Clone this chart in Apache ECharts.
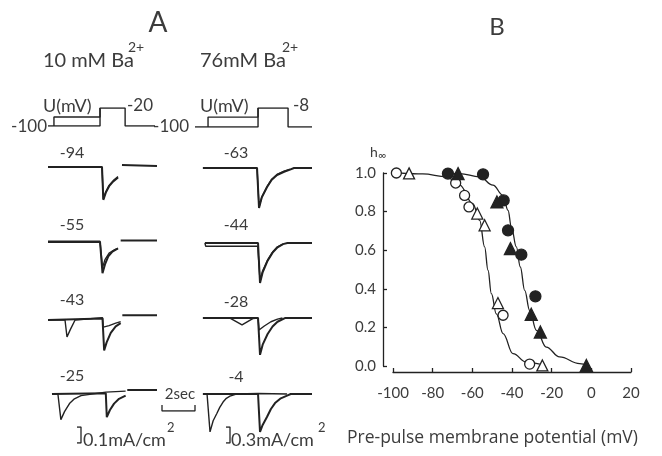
<!DOCTYPE html>
<html>
<head>
<meta charset="utf-8">
<script src="https://cdn.jsdelivr.net/npm/echarts@6/dist/echarts.min.js"></script>
<style>
  html, body { margin: 0; padding: 0; background: #fff; }
  #chart { width: 662px; height: 456px; }
</style>
</head>
<body>
<div id="chart"></div>
<script>
// ---- panel A: voltage protocols (time s, potential mV) ----
const protoLeftControl = [[0, -100], [3.15, -100], [3.15, -20], [4.67, -20], [4.67, -100], [6.48, -100]]
const protoLeftTest = [[0.36, -100], [0.36, -60], [3.15, -60], [3.15, -20]]
const protoRightControl = [[0, -100], [3.82, -100], [3.82, -8], [5.64, -8], [5.64, -100], [7.09, -100]]
const protoRightTest = [[0.79, -100], [0.79, -52], [3.82, -52], [3.82, -8]]

// ---- panel A: currents, 10 mM Ba (time s, mA/cm2) ----
const leftLabels = ['-94', '-55', '-43', '-25']
const control94 = [[0, 0], [3.27, 0], [3.35, -0.205], [3.5, -0.16], [3.7, -0.12], [3.95, -0.09], [4.24, -0.065], [4.36, '-'], [4.48, 0.012], [6.6, 0.006]]
const test94 = [[0, 0], [3.27, 0], [3.35, -0.2], [3.5, -0.155], [3.7, -0.115], [3.95, -0.085], [4.24, -0.06]]
const control55 = [[0, 0], [3.15, 0], [3.3, -0.195], [3.45, -0.14], [3.65, -0.09], [3.9, -0.06], [4.24, -0.04], [4.36, '-'], [4.4, 0.01], [6.6, 0.01]]
const test55 = [[0, 0.005], [3.15, 0.005], [3.3, -0.16], [3.45, -0.11], [3.7, -0.07], [4.0, -0.05], [4.24, -0.04]]
const control43 = [[0, 0], [3.3, 0.01], [3.4, -0.19], [3.55, -0.14], [3.8, -0.08], [4.1, -0.04], [4.4, -0.02], [4.45, '-'], [4.5, 0.03], [6.6, 0.03]]
const test43 = [[0, 0], [1.03, 0], [1.15, -0.106], [1.35, -0.06], [1.64, 0], [3.3, 0.015], [3.35, -0.045], [3.7, -0.035], [4.1, -0.02], [4.4, -0.01]]
const control25 = [[0.24, 0], [3.5, 0.005], [3.56, -0.145], [3.75, -0.1], [4.0, -0.06], [4.3, -0.03], [4.7, -0.01], [4.75, '-'], [4.8, 0.025], [6.6, 0.025]]
const test25 = [[0.24, 0], [0.6, 0], [0.78, -0.16], [1.0, -0.11], [1.3, -0.06], [1.6, -0.03], [2.0, -0.01], [3.5, 0.012], [4.7, 0.018]]

// ---- panel A: currents, 76 mM Ba ----
const rightLabels = ['-63', '-44', '-28', '-4']
const control63 = [[0.48, 0], [3.76, 0], [3.88, -0.75], [4.05, -0.55], [4.36, -0.36], [4.65, -0.22], [4.97, -0.13], [5.4, -0.07], [5.76, -0.03], [6.0, 0], [7.09, 0]]
const test63 = [[0.48, 0], [3.76, 0], [3.88, -0.73], [4.05, -0.54], [4.36, -0.35], [4.65, -0.21], [4.97, -0.12], [5.4, -0.06], [5.76, -0.02]]
const control44 = [[0.6, 0], [3.82, 0], [3.94, -0.75], [4.1, -0.55], [4.4, -0.33], [4.7, -0.18], [5.0, -0.08], [5.33, -0.02], [5.6, 0], [7.09, 0]]
const test44 = [[0.6, 0], [0.65, -0.06], [3.8, -0.06], [3.94, -0.7], [4.1, -0.52], [4.4, -0.32], [4.7, -0.17], [5.0, -0.07], [5.33, -0.02]]
const control28 = [[0.48, 0], [3.82, 0], [3.94, -0.69], [4.1, -0.5], [4.4, -0.3], [4.7, -0.16], [5.0, -0.07], [5.45, 0], [7.09, 0]]
const test28 = [[0.48, 0], [2.12, 0], [2.85, -0.13], [3.5, -0.01], [3.82, 0], [3.88, -0.225], [4.2, -0.15], [4.6, -0.07], [5.0, -0.02], [5.3, 0]]
const control4 = [[0.48, 0], [3.82, 0], [3.94, -0.71], [4.1, -0.58], [4.36, -0.43], [4.6, -0.28], [4.85, -0.17], [5.2, -0.08], [5.58, -0.03], [5.8, 0], [7.09, 0]]
const test4 = [[0.48, 0], [0.73, 0], [0.91, -0.71], [1.1, -0.5], [1.33, -0.36], [1.5, -0.25], [1.7, -0.15], [1.9, -0.08], [2.12, -0.04], [2.5, 0], [3.82, 0.01], [5.58, 0]]

// scale bars
const timeBar = 2      // sec
const leftCurBar = 0.1   // mA/cm2
const rightCurBar = 0.3

// ---- panel B: h infinity vs pre-pulse potential ----
const xTicks = [-100, -80, -60, -40, -20, 0, 20]
const openCircles = [[-98.3, 1.0], [-68.4, 0.948], [-63.9, 0.884], [-61.7, 0.824], [-44.5, 0.263], [-31.1, 0.01]]
const openTriangles = [[-91.9, 0.998], [-57.5, 0.79], [-53.8, 0.729], [-47.1, 0.326], [-24.7, 0.003]]
const filledCircles = [[-72.3, 0.997], [-54.6, 0.993], [-44.2, 0.858], [-42.0, 0.703], [-35.3, 0.577], [-28.2, 0.361]]
const filledTriangles = [[-67.2, 0.997], [-47.6, 0.85], [-40.8, 0.608], [-30.3, 0.268], [-25.7, 0.176], [-2.5, 0.003]]
const curveOpen = [[-96, 1.0], [-85, 0.995], [-73, 0.98], [-66.4, 0.937], [-59.7, 0.84], [-56.3, 0.755], [-53.8, 0.617], [-52.1, 0.496], [-50.4, 0.375], [-47.9, 0.27], [-44.5, 0.168], [-39.5, 0.064], [-32.8, 0.02], [-26, 0.01]]
const curveFilled = [[-75, 1.0], [-66.4, 0.997], [-56.3, 0.98], [-49.6, 0.937], [-44.5, 0.884], [-42, 0.806], [-40.3, 0.72], [-37.8, 0.617], [-35.8, 0.513], [-33.6, 0.392], [-31.1, 0.288], [-27.7, 0.185], [-22.7, 0.098], [-16, 0.047], [-5.9, 0.012], [-1.7, 0.003]]

const INK = '#222'
const TXT = '#3c3c3c'
const FONT = 'Lato'

const grids = []
const xAxes = []
const yAxes = []
const series = []

// one hidden-axis grid per small trace plot
function addPanel(box, xr, yr) {
  grids.push(box)
  const i = grids.length - 1
  xAxes.push({ gridIndex: i, type: 'value', min: xr[0], max: xr[1], show: false })
  yAxes.push({ gridIndex: i, type: 'value', min: yr[0], max: yr[1], show: false })
  return i
}
function addLine(i, data, width) {
  series.push({
    type: 'line', xAxisIndex: i, yAxisIndex: i, data: data,
    showSymbol: false, symbol: 'none', connectNulls: false, silent: true,
    lineStyle: { color: INK, width: width || 1.6 }
  })
}

// protocols
let p = addPanel({ left: 48, top: 108, width: 109, height: 18 }, [0, 6.6], [-100, -20])
addLine(p, protoLeftControl, 1.4)
addLine(p, protoLeftTest, 1.4)
p = addPanel({ left: 195, top: 108, width: 117, height: 19 }, [0, 7.09], [-100, -8])
addLine(p, protoRightControl, 1.4)
addLine(p, protoRightTest, 1.4)

// current traces
const leftTops = [159, 234, 312, 386]
const rightTops = [162.7, 237.7, 312.7, 388.7]
const leftPairs = [[control94, test94], [control55, test55], [control43, test43], [control25, test25]]
const rightPairs = [[control63, test63], [control44, test44], [control28, test28], [control4, test4]]
leftPairs.forEach((pair, k) => {
  const i = addPanel({ left: 48, top: leftTops[k], width: 109, height: 48 }, [0, 6.6], [-0.25, 0.05])
  addLine(i, pair[0], 2)
  addLine(i, pair[1], 1.4)
})
rightPairs.forEach((pair, k) => {
  const i = addPanel({ left: 195, top: rightTops[k], width: 117, height: 48 }, [0, 7.09], [-0.8, 0.1])
  addLine(i, pair[0], 2)
  addLine(i, pair[1], 1.4)
})

// scale bars
p = addPanel({ left: 162, top: 405, width: 33, height: 6 }, [0, timeBar], [0, 1])
addLine(p, [[0, 1], [0, 0], [timeBar, 0], [timeBar, 1]], 1.3)
p = addPanel({ left: 77, top: 427, width: 4, height: 16 }, [0, 1], [0, leftCurBar])
addLine(p, [[0, leftCurBar], [1, leftCurBar], [1, 0], [0, 0]], 1.3)
p = addPanel({ left: 226, top: 427, width: 4, height: 16 }, [0, 1], [0, rightCurBar])
addLine(p, [[0, rightCurBar], [1, rightCurBar], [1, 0], [0, 0]], 1.3)

// panel B
grids.push({ left: 393, top: 173, width: 238, height: 193 })
const b = grids.length - 1
xAxes.push({
  gridIndex: b, type: 'value', min: -100, max: 20, interval: 20, offset: 6,
  axisLine: { onZero: false, lineStyle: { color: INK, width: 1.3 } },
  axisTick: { inside: true, length: 4, lineStyle: { color: INK, width: 1.3 } },
  axisLabel: { color: TXT, fontFamily: FONT, fontSize: 15, margin: 14, customValues: xTicks },
  splitLine: { show: false }
})
yAxes.push({
  gridIndex: b, type: 'value', min: 0, max: 1, interval: 0.2, offset: 10,
  axisLine: { show: true, onZero: false, lineStyle: { color: INK, width: 1.3 } },
  axisTick: { show: true, inside: true, length: 4, lineStyle: { color: INK, width: 1.3 } },
  axisLabel: { color: TXT, fontFamily: FONT, fontSize: 15, margin: 7, formatter: v => v.toFixed(1) },
  splitLine: { show: false }
})
function addCurve(data) {
  series.push({
    type: 'line', xAxisIndex: b, yAxisIndex: b, data: data, smooth: 0.4, smoothMonotone: 'x',
    showSymbol: false, symbol: 'none', silent: true, z: 2,
    lineStyle: { color: INK, width: 1.3 }
  })
}
function addMarks(data, symbol, filled, size) {
  series.push({
    type: 'scatter', xAxisIndex: b, yAxisIndex: b, data: data, symbol: symbol, symbolSize: size, z: 3,
    itemStyle: { color: filled ? INK : '#fff', borderColor: INK, borderWidth: 1.3, opacity: 1 }
  })
}
addCurve(curveOpen)
addCurve(curveFilled)
addMarks(openCircles, 'circle', false, 10)
addMarks(openTriangles, 'triangle', false, 11)
addMarks(filledCircles, 'circle', true, 11)
addMarks(filledTriangles, 'triangle', true, 12)

function txt(x, y, text, size, align, family) {
  return {
    type: 'text', x: x, y: y, silent: true,
    style: { text: text, fill: TXT, font: size + 'px ' + (family || FONT), textAlign: align || 'left', textVerticalAlign: 'middle' }
  }
}
const texts = [
  txt(158, 23, 'A', 28, 'center'),
  txt(497, 27, 'B', 24, 'center'),
  txt(43, 61, '10 mM Ba', 20), txt(128, 47, '2+', 14),
  txt(200, 61, '76mM Ba', 20), txt(282, 47, '2+', 14),
  txt(43, 106, 'U(mV)', 18), txt(127, 106, '-20', 17), txt(47, 127, '-100', 17, 'right'),
  txt(200, 106, 'U(mV)', 18), txt(293, 106, '-8', 17), txt(189, 127, '-100', 17, 'right'),
  txt(180, 394, '2sec', 15, 'center'),
  txt(83, 440, '0.1mA/cm', 18), txt(167, 428, '2', 13),
  txt(231, 440, '0.3mA/cm', 18), txt(318, 428, '2', 13),
  txt(370, 152, 'h', 14), txt(378, 155, '∞', 11),
  txt(347, 438, 'Pre-pulse membrane potential (mV)', 17.5, 'left', 'Open Sans')
]
const leftLabelY = [153, 225, 300, 376]
const rightLabelY = [153, 225, 302, 377]
leftLabels.forEach((s, k) => texts.push(txt(72, leftLabelY[k], s, 16, 'center')))
rightLabels.forEach((s, k) => texts.push(txt(236, rightLabelY[k], s, 16, 'center')))

const chart = echarts.init(document.getElementById('chart'))
chart.setOption({
  backgroundColor: '#fff',
  animation: false,
  grid: grids,
  xAxis: xAxes,
  yAxis: yAxes,
  series: series,
  graphic: texts
})
</script>
</body>
</html>
